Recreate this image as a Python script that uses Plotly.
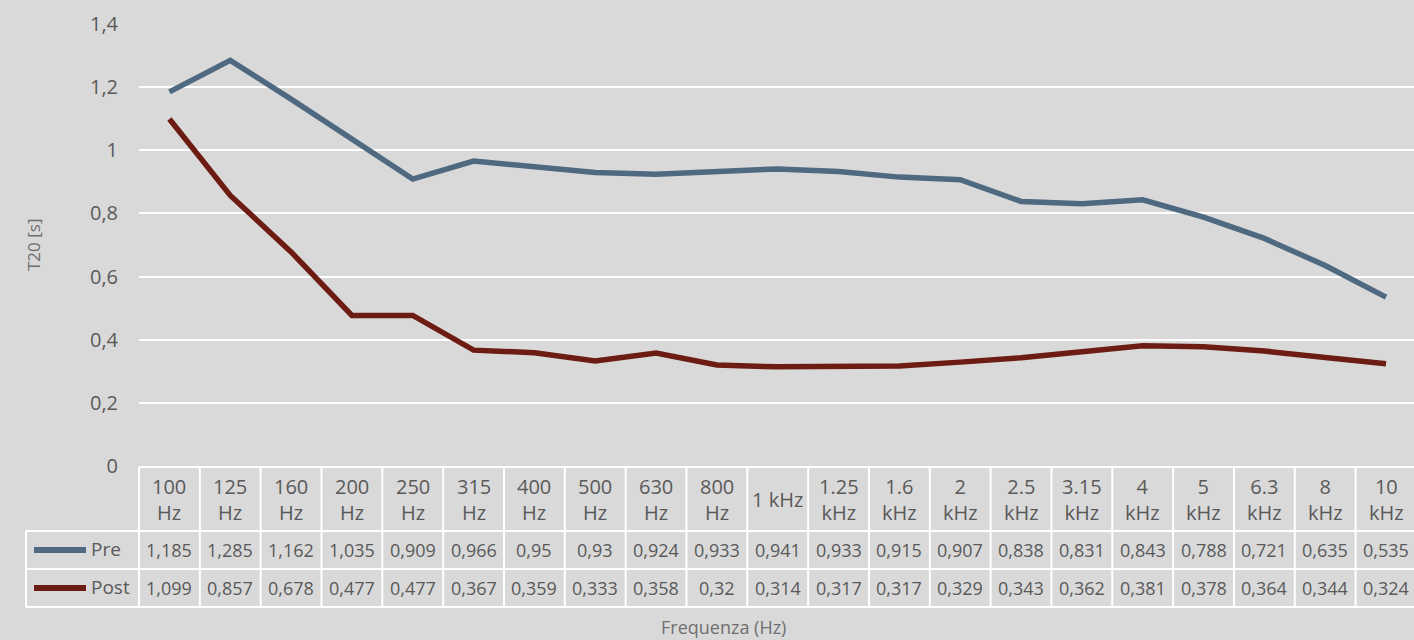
import plotly.graph_objects as go

# Octave-band centre frequencies and measured T20 values (seconds)
bands = ["100 Hz", "125 Hz", "160 Hz", "200 Hz", "250 Hz", "315 Hz", "400 Hz",
         "500 Hz", "630 Hz", "800 Hz", "1 kHz", "1.25 kHz", "1.6 kHz", "2 kHz",
         "2.5 kHz", "3.15 kHz", "4 kHz", "5 kHz", "6.3 kHz", "8 kHz", "10 kHz"]
header_labels = ["100<br>Hz", "125<br>Hz", "160<br>Hz", "200<br>Hz", "250<br>Hz",
                 "315<br>Hz", "400<br>Hz", "500<br>Hz", "630<br>Hz", "800<br>Hz",
                 "1 kHz", "1.25<br>kHz", "1.6<br>kHz", "2<br>kHz", "2.5<br>kHz",
                 "3.15<br>kHz", "4<br>kHz", "5<br>kHz", "6.3<br>kHz", "8<br>kHz",
                 "10<br>kHz"]
pre = [1.185, 1.285, 1.162, 1.035, 0.909, 0.966, 0.95, 0.93, 0.924, 0.933, 0.941,
       0.933, 0.915, 0.907, 0.838, 0.831, 0.843, 0.788, 0.721, 0.635, 0.535]
post = [1.099, 0.857, 0.678, 0.477, 0.477, 0.367, 0.359, 0.333, 0.358, 0.32, 0.314,
        0.317, 0.317, 0.329, 0.343, 0.362, 0.381, 0.378, 0.364, 0.344, 0.324]
series = [("Pre", pre, "#4e6980"), ("Post", post, "#6c1c12")]

W, H = 1414, 640
BG = "#d9d9d9"
TXT = "#595959"
FONT = "Open Sans"

# plot area in pixels
L, T, B = 139, 24, 466
X_MAX = 20.46
X_MIN = -0.5
span = X_MAX - X_MIN


def px_x(px):
    return (px - L) / (W - L)


def px_y(py):
    return (B - py) / (B - T)


def col_x(v):
    return (v - X_MIN) / span


fig = go.Figure()
for name, vals, color in series:
    fig.add_trace(go.Scatter(x=bands, y=vals, mode="lines", name=name,
                             line=dict(color=color, width=5.5), showlegend=False))

shapes = []
annotations = []
grid = dict(type="line", line=dict(color="white", width=2), layer="above")

# table rows (pixel y)
row_top, row_h1, row_h2, row_bot = 467, 531, 569, 607
leg_left = 26

# horizontal borders
shapes.append(dict(grid, xref="paper", yref="paper", x0=col_x(-0.5), x1=1.01,
                   y0=px_y(row_top), y1=px_y(row_top)))
for yy in (row_h1, row_h2, row_bot):
    shapes.append(dict(grid, xref="paper", yref="paper", x0=px_x(leg_left), x1=1.01,
                       y0=px_y(yy), y1=px_y(yy)))
# vertical borders
shapes.append(dict(grid, xref="paper", yref="paper", x0=px_x(leg_left), x1=px_x(leg_left),
                   y0=px_y(row_h1), y1=px_y(row_bot)))
for i in range(len(bands) + 1):
    xv = col_x(i - 0.5)
    if xv > 1.0:
        continue
    shapes.append(dict(grid, xref="paper", yref="paper", x0=xv, x1=xv,
                       y0=px_y(row_top), y1=px_y(row_bot)))

# header cells
for i, lab in enumerate(header_labels):
    annotations.append(dict(xref="paper", yref="paper", x=col_x(i), y=px_y((row_top + row_h1) / 2),
                            text=lab, showarrow=False, xanchor="center", yanchor="middle",
                            font=dict(family=FONT, size=20, color=TXT)))

# value rows with legend keys
for r, (name, vals, color) in enumerate(series):
    y0, y1 = (row_h1, row_h2) if r == 0 else (row_h2, row_bot)
    ym = (y0 + y1) / 2
    shapes.append(dict(type="line", xref="paper", yref="paper", x0=px_x(34), x1=px_x(86),
                       y0=px_y(ym), y1=px_y(ym), line=dict(color=color, width=6), layer="above"))
    annotations.append(dict(xref="paper", yref="paper", x=px_x(89), y=px_y(ym - 1), text=name,
                            showarrow=False, xanchor="left", yanchor="middle",
                            font=dict(family=FONT, size=19, color=TXT)))
    for i, v in enumerate(vals):
        annotations.append(dict(xref="paper", yref="paper", x=col_x(i), y=px_y(ym),
                                text=f"{v:g}".replace(".", ","), showarrow=False,
                                xanchor="center", yanchor="middle",
                                font=dict(family=FONT, size=18, color=TXT)))

# axis titles
annotations.append(dict(xref="paper", yref="paper", x=px_x(723), y=px_y(641), text="Frequenza (Hz)",
                        showarrow=False, xanchor="center", yanchor="bottom",
                        font=dict(family=FONT, size=18, color="#6f6f6f")))
annotations.append(dict(xref="paper", yref="paper", x=px_x(33), y=px_y(245), text="T20 [s]",
                        showarrow=False, xanchor="center", yanchor="middle", textangle=-90,
                        font=dict(family=FONT, size=17, color="#6f6f6f")))

fig.update_layout(
    width=W, height=H,
    margin=dict(l=L, r=0, t=T, b=H - B, pad=0),
    paper_bgcolor=BG, plot_bgcolor=BG,
    separators=",.",
    font=dict(family=FONT, color=TXT),
    xaxis=dict(categoryorder="array", categoryarray=bands, range=[X_MIN, X_MAX],
               showticklabels=False, showgrid=False, zeroline=False, showline=False,
               ticks=""),
    yaxis=dict(range=[0, 1.4], dtick=0.2, tick0=0, showgrid=True, gridcolor="white",
               gridwidth=2, zeroline=False, showline=False, ticks="", ticklabelstandoff=20,
               tickfont=dict(family=FONT, size=20, color=TXT)),
    shapes=shapes, annotations=annotations,
)

fig.write_html("out.html")
